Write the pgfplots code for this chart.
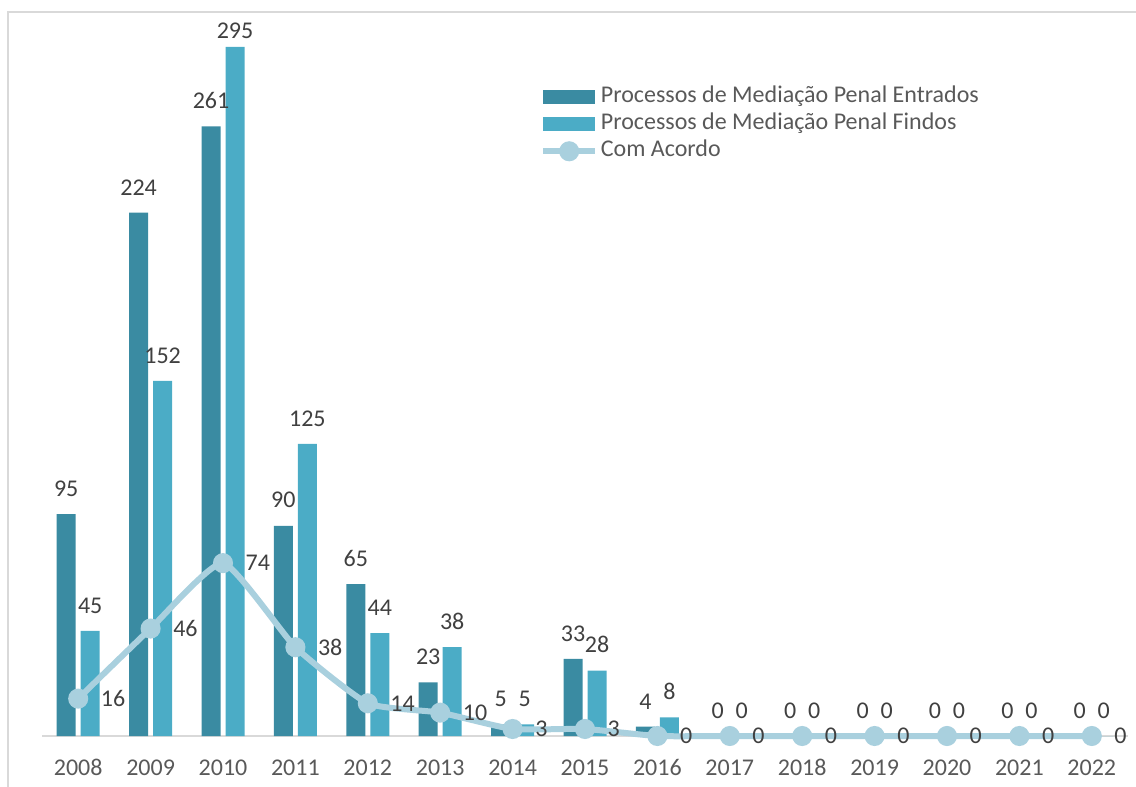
\documentclass[border=0pt]{standalone}
\usepackage{pgfplots}
\pgfplotsset{compat=1.18}
\usepackage{fontspec}
\setmainfont{Carlito}
\definecolor{cDark}{HTML}{3A8BA2}
\definecolor{cLight}{HTML}{4BACC6}
\definecolor{cLine}{HTML}{A9D0DE}
\definecolor{cText}{HTML}{404040}
\definecolor{cTick}{HTML}{595959}
\definecolor{cFrame}{HTML}{D9D9D9}
\pgfplotsset{
  darklegend/.style={legend image code/.code={\fill[cDark] (0pt,-5.25pt) rectangle (39pt,5.25pt);}},
  lightlegend/.style={legend image code/.code={\fill[cLight] (0pt,-5.25pt) rectangle (39pt,5.25pt);}},
  linelegend/.style={legend image code/.code={\draw[##1, mark repeat=2, mark phase=2] plot coordinates {(0pt,0pt)(19.5pt,0pt)(39pt,0pt)};}},
}
\pgfplotstableread{
x e se f sf
0 95 13 45 13
1 224 13 152 13
2 261 13 295 6
3 90 13 125 13
4 65 13 44 13
5 23 13 38 13
6 5 13 5 13
7 33 13 28 13
8 4 13 8 13
9 0 13 0 13
10 0 13 0 13
11 0 13 0 13
12 0 13 0 13
13 0 13 0 13
14 0 13 0 13
}\bars
\begin{document}
\begin{tikzpicture}
\useasboundingbox (0,0) rectangle (852pt,589.5pt);
\draw[cFrame, line width=1.5pt] (6pt,-20pt) -- (6pt,580.5pt) -- (880pt,580.5pt);
\begin{axis}[
  at={(31.5pt,37.5pt)}, anchor=south west,
  scale only axis, width=814.5pt, height=537pt,
  xmin=-0.5, xmax=14.5, ymin=0, ymax=306.5,
  clip=false,
  axis x line*=bottom, axis y line=none,
  x axis line style={cFrame, line width=1.2pt},
  ytick=\empty,
  xtick={0,...,14},
  xticklabels={2008,2009,2010,2011,2012,2013,2014,2015,2016,2017,2018,2019,2020,2021,2022},
  major tick length=0pt,
  xticklabel style={font=\fontsize{18}{21}\selectfont, text=cTick, anchor=base, inner sep=0pt, yshift=-29.25pt},
  /pgf/number format/assume math mode=true,
  ybar=3.75pt, bar width=14.25pt,
  legend style={draw=none, fill=none, at={(0.4585,0.9113)}, anchor=north west,
    font=\fontsize{18}{21}\selectfont, text=cTick, inner sep=0pt,
    nodes={text height=11pt, text depth=3.25pt, inner ysep=3pt, inner xsep=2pt},
    cells={anchor=west}, row sep=0pt},
  legend cell align=left,
]
\addplot[fill=cDark, draw=none, darklegend,
  visualization depends on={\thisrow{se} \as \ys},
  nodes near coords, every node near coord/.append style={anchor=south, inner sep=0pt, yshift=\ys pt, text=cText, font=\fontsize{18}{21}\selectfont}]
  table[x=x, y=e] {\bars};
\addlegendentry{Processos de Mediação Penal Entrados}
\addplot[fill=cLight, draw=none, lightlegend,
  visualization depends on={\thisrow{sf} \as \ys},
  nodes near coords, every node near coord/.append style={anchor=south, inner sep=0pt, yshift=\ys pt, text=cText, font=\fontsize{18}{21}\selectfont}]
  table[x=x, y=f] {\bars};
\addlegendentry{Processos de Mediação Penal Findos}
\addplot[smooth, tension=0.3, cLine, line width=4.5pt, mark=*, mark size=5.25pt,
  mark options={fill=cLine, draw=none}, linelegend,
  nodes near coords, every node near coord/.append style={anchor=west, inner sep=0pt, xshift=14.75pt, yshift=0pt, text=cText, font=\fontsize{18}{21}\selectfont}]
  coordinates {(0,16)(1,46)(2,74)(3,38)(4,14)(5,10)(6,3)(7,3)(8,0)(9,0)(10,0)(11,0)(12,0)(13,0)(14,0)};
\addlegendentry{Com Acordo}
\end{axis}
\end{tikzpicture}
\end{document}
